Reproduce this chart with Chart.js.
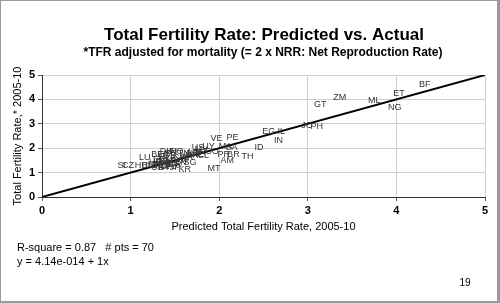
<!DOCTYPE html>
<html>
<head>
<meta charset="utf-8">
<script src="https://cdn.jsdelivr.net/npm/chart.js@4.4.1/dist/chart.umd.min.js"></script>
<style>
    body { margin: 0; background: #fff; }
    #wrap { position: relative; width: 500px; height: 303px; }
    #frame {
        position: absolute; left: 0; top: 0; width: 500px; height: 303px;
        box-sizing: border-box; pointer-events: none;
        border-left: 1px solid #9a9a9a; border-top: 1px solid #9a9a9a;
        border-right: 3px solid #9a9a9a; border-bottom: 2px solid #9a9a9a;
    }
</style>
</head>
<body>
<div id="wrap">
    <canvas id="tfrChart" width="500" height="303"></canvas>
    <div id="frame"></div>
</div>
<script>
// country codes with predicted (x) and actual (y) TFR
const countries = ['BF', 'ET', 'NG', 'ML', 'ZM', 'GT', 'JO', 'PH', 'EG', 'IL',
                   'IN', 'ID', 'TH', 'MT', 'VE', 'PE', 'MA', 'SA', 'PR', 'BR',
                   'AM', 'US', 'UY', 'SI', 'CZ', 'LU', 'BE', 'HU', 'RU', 'LT',
                   'BG', 'RO', 'UA', 'BY', 'LV', 'PL', 'IT', 'ES', 'GR', 'PT',
                   'JP', 'DE', 'AT', 'CH', 'EE', 'HR', 'CN', 'SG', 'KR', 'CA',
                   'DK', 'FI', 'NO', 'SE', 'FR', 'GB', 'NL', 'AU', 'NZ', 'IE',
                   'CL', 'AR', 'TR', 'IR', 'VN', 'CO', 'MX', 'CU', 'MY', 'TN'];
const predicted = [4.32, 4.03, 3.98, 3.75, 3.36, 3.14, 2.99, 3.10, 2.56, 2.70,
                   2.67, 2.45, 2.32, 1.94, 1.97, 2.15, 2.07, 2.14, 2.05, 2.16,
                   2.09, 1.76, 1.88, 0.90, 0.97, 1.16, 1.30, 1.12, 1.20, 1.25,
                   1.30, 1.35, 1.30, 1.38, 1.40, 1.45, 1.42, 1.48, 1.50, 1.38,
                   1.50, 1.36, 1.44, 1.52, 1.32, 1.28, 1.56, 1.67, 1.61, 1.55,
                   1.40, 1.48, 1.52, 1.45, 1.37, 1.44, 1.38, 1.62, 1.70, 1.78,
                   1.82, 1.70, 1.78, 1.66, 1.58, 1.92, 1.72, 1.40, 1.80, 1.60];
const actual    = [4.62, 4.23, 3.66, 3.97, 4.09, 3.81, 2.91, 2.90, 2.67, 2.67,
                   2.32, 2.03, 1.66, 1.18, 2.39, 2.42, 2.06, 2.04, 1.74, 1.74,
                   1.51, 2.03, 2.05, 1.30, 1.30, 1.60, 1.74, 1.27, 1.30, 1.33,
                   1.30, 1.28, 1.22, 1.20, 1.24, 1.25, 1.33, 1.38, 1.32, 1.36,
                   1.22, 1.44, 1.45, 1.48, 1.52, 1.42, 1.42, 1.40, 1.13, 1.62,
                   1.86, 1.88, 1.86, 1.78, 1.75, 1.70, 1.62, 1.72, 1.78, 1.76,
                   1.72, 1.68, 1.82, 1.60, 1.55, 1.88, 1.84, 1.55, 1.95, 1.80];
// fitted line y = 4.14e-014 + 1x
const fitX = [0, 5];
const fitY = [0, 5];
const axisTicks = [0, 1, 2, 3, 4, 5];

const points = predicted.map(function(x, i) {
    return { x: x, y: actual[i] };
});
const fitLine = fitX.map(function(x, i) {
    return { x: x, y: fitY[i] };
});

const FONT = '"Liberation Sans", Arial, sans-serif';

const textPlugin = {
    id: 'textPlugin',
    afterDatasetsDraw: function(chart) {
        const ctx = chart.ctx;
        const xs = chart.scales.x;
        const ys = chart.scales.y;
        ctx.save();
        ctx.font = '9px ' + FONT;
        ctx.fillStyle = '#333';
        ctx.textAlign = 'center';
        ctx.textBaseline = 'middle';
        for (let i = 0; i < countries.length; i++) {
            ctx.fillText(countries[i], xs.getPixelForValue(predicted[i]), ys.getPixelForValue(actual[i]));
        }
        ctx.restore();
    },
    afterDraw: function(chart) {
        const ctx = chart.ctx;
        ctx.save();
        ctx.fillStyle = '#000';
        ctx.textAlign = 'center';
        ctx.textBaseline = 'middle';
        ctx.font = 'bold 17px ' + FONT;
        ctx.fillText('Total Fertility Rate: Predicted vs. Actual', 264, 35);
        ctx.font = 'bold 12px ' + FONT;
        ctx.fillText('*TFR adjusted for mortality (= 2 x NRR: Net Reproduction Rate)', 263, 53);

        ctx.textAlign = 'left';
        ctx.font = '11px ' + FONT;
        ctx.fillText('R-square = 0.87   # pts = 70', 17, 248);
        ctx.fillText('y = 4.14e-014 + 1x', 17, 262);

        ctx.textAlign = 'center';
        ctx.font = '10px ' + FONT;
        ctx.fillText('19', 465, 283);
        ctx.restore();
    }
};

const ctx = document.getElementById('tfrChart').getContext('2d');
const tfrChart = new Chart(ctx, {
    type: 'scatter',
    data: {
        datasets: [{
            label: 'countries',
            data: points,
            pointRadius: 0,
            pointHoverRadius: 0
        }, {
            type: 'line',
            label: 'fit',
            data: fitLine,
            borderColor: '#000',
            borderWidth: 2,
            pointRadius: 0,
            fill: false
        }]
    },
    options: {
        responsive: false,
        animation: false,
        layout: {
            padding: { left: 0, right: 15, top: 75, bottom: 0 }
        },
        plugins: {
            legend: { display: false },
            title: { display: false },
            tooltip: { enabled: false }
        },
        scales: {
            x: {
                type: 'linear',
                min: 0,
                max: 5,
                afterBuildTicks: function(scale) {
                    scale.ticks = axisTicks.map(function(v) { return { value: v }; });
                },
                afterFit: function(scale) {
                    scale.height = 106;
                },
                grid: {
                    color: '#cfcfcf',
                    tickColor: '#555',
                    tickLength: 4
                },
                border: { color: '#333', width: 1 },
                ticks: {
                    padding: 3,
                    color: '#000',
                    maxRotation: 0,
                    font: { family: FONT, size: 11, weight: 'bold' }
                },
                title: {
                    display: true,
                    text: 'Predicted Total Fertility Rate, 2005-10',
                    color: '#000',
                    font: { family: FONT, size: 11 },
                    padding: { top: 0, bottom: 69 }
                }
            },
            y: {
                type: 'linear',
                min: 0,
                max: 5,
                afterBuildTicks: function(scale) {
                    scale.ticks = axisTicks.map(function(v) { return { value: v }; });
                },
                afterFit: function(scale) {
                    scale.width = 42;
                },
                grid: {
                    color: '#cfcfcf',
                    tickColor: '#555',
                    tickLength: 4
                },
                border: { color: '#333', width: 1 },
                ticks: {
                    padding: 3,
                    color: '#000',
                    font: { family: FONT, size: 11, weight: 'bold' }
                },
                title: {
                    display: true,
                    text: 'Total Fertility Rate,* 2005-10',
                    color: '#000',
                    font: { family: FONT, size: 11 },
                    padding: { top: 11, bottom: 0 }
                }
            }
        }
    },
    plugins: [textPlugin]
});
</script>
</body>
</html>
